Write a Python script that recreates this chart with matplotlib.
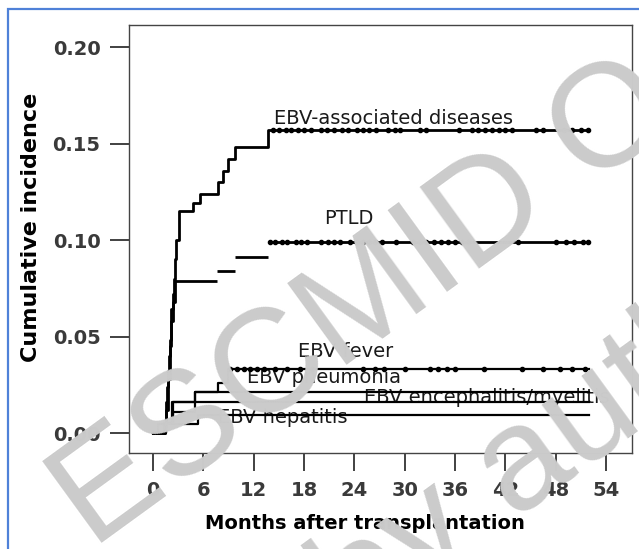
# %% import modules
import numpy as np
import matplotlib.pyplot as plt
from matplotlib.patches import Rectangle

# %% cumulative incidence curves (months after transplantation, incidence)
ebv_t = [0, 1.4, 1.5, 1.6, 1.7, 1.8, 1.9, 2.0, 2.1, 2.2, 2.35, 2.5, 2.65, 2.8,
         3.1, 4.8, 5.6, 7.7, 8.3, 9.0, 9.8, 13.7, 52]
ebv_v = [0, 0.003, 0.008, 0.016, 0.024, 0.032, 0.040, 0.048, 0.056, 0.064,
         0.072, 0.080, 0.090, 0.100, 0.115, 0.119, 0.124, 0.130, 0.136, 0.142,
         0.148, 0.157, 0.157]
ebv_cens = [14.3, 15.0, 15.8, 16.5, 17.3, 18.0, 18.8, 20.0, 20.8, 21.6, 22.5,
            23.3, 24.3, 25.0, 25.8, 26.6, 28.0, 28.8, 29.5, 31.8, 32.5, 36.5,
            38.0, 38.8, 39.6, 40.4, 41.2, 42.0, 42.8, 45.6, 46.5, 49.0, 50.0,
            51.0, 51.8]

ptld_t = [0, 1.4, 1.6, 1.8, 2.0, 2.2, 2.4, 2.6, 7.6, 9.8, 13.7, 52]
ptld_v = [0, 0.003, 0.012, 0.028, 0.045, 0.058, 0.068, 0.079, 0.084, 0.091,
          0.099, 0.099]
ptld_cens = [14.0, 14.6, 15.4, 16.0, 17.0, 17.6, 18.3, 20.0, 20.9, 21.6, 22.3,
             23.5, 24.3, 25.0, 25.8, 26.5, 27.3, 29.0, 31.0, 31.8, 32.6, 33.5,
             34.3, 35.2, 36.0, 36.8, 37.6, 43.5, 48.0, 49.2, 50.2, 51.2, 51.9]

fever_t = [0, 1.6, 2.4, 5.0, 7.7, 8.9, 52]
fever_v = [0, 0.005, 0.016, 0.021, 0.026, 0.033, 0.033]
fever_cens = [9.2, 10.0, 10.8, 11.6, 12.4, 13.2, 14.5, 16.0, 17.5, 19.0, 25.0,
              26.5, 27.5, 30.0, 33.0, 34.0, 35.0, 36.0, 39.5, 44.0, 46.5,
              48.5, 50.0, 51.5]

pneu_t = [0, 1.5, 2.4, 5.0, 52]
pneu_v = [0, 0.005, 0.011, 0.021, 0.021]

enceph_t = [0, 1.3, 2.3, 52]
enceph_v = [0, 0.005, 0.016, 0.016]

hep_t = [0, 0.6, 5.4, 52]
hep_v = [0, 0.0047, 0.0093, 0.0093]

xticks = np.arange(0, 55, 6)
yticks = [0.00, 0.05, 0.10, 0.15, 0.20]


def step_value(t, v, tc):
    # value of the step curve at the censoring times
    idx = np.searchsorted(t, tc, side="right") - 1
    return np.asarray(v)[idx]


# %% initialize graph
fig = plt.figure(figsize=(6.39, 5.49), dpi=100)
ax = fig.add_axes([129 / 639, 1 - 453 / 549, 503 / 639, 428 / 549])

# curves
curve_kw = dict(color="black", drawstyle="steps-post", zorder=4)
ax.plot(ebv_t, ebv_v, lw=2.0, **curve_kw)
# PTLD plateaus drawn as separate horizontal pieces
ax.plot(ptld_t[:8], ptld_v[:8], lw=2.0, **curve_kw)
ax.hlines(ptld_v[7:-1], ptld_t[7:-1], ptld_t[8:], colors="black", lw=2.0,
          zorder=4)
ax.plot(fever_t, fever_v, lw=1.6, **curve_kw)
ax.plot(pneu_t, pneu_v, lw=1.6, **curve_kw)
ax.plot(enceph_t, enceph_v, lw=1.6, **curve_kw)
ax.plot(hep_t, hep_v, lw=1.6, **curve_kw)

# censoring marks
mark_kw = dict(ls="none", marker="o", ms=3.0, color="black", zorder=5)
ax.plot(ebv_cens, step_value(ebv_t, ebv_v, ebv_cens), **mark_kw)
ax.plot(ptld_cens, step_value(ptld_t, ptld_v, ptld_cens), **mark_kw)
ax.plot(fever_cens, step_value(fever_t, fever_v, fever_cens), **mark_kw)

# curve labels
lab_kw = dict(fontsize=14, family="DejaVu Sans", color="#1a1a1a",
              va="center", ha="left", zorder=3)
ax.text(14.4, 0.1627, "EBV-associated diseases", **lab_kw)
ax.text(20.4, 0.1110, "PTLD", **lab_kw)
ax.text(17.3, 0.0420, "EBV fever", **lab_kw)
ax.text(11.2, 0.0290, "EBV pneumonia", **lab_kw)
ax.text(25.2, 0.0185, "EBV encephalitis/myelitis", **lab_kw)
ax.text(7.7, 0.0078, "EBV hepatitis", **lab_kw)

# axes and ticks
ax.set_xlim(-2.86, 57.1)
ax.set_ylim(-0.01036, 0.2114)
ax.set_xticks(xticks)
ax.set_yticks(yticks)
ax.set_yticklabels([f"{y:.2f}" for y in yticks])
for lab in ax.get_xticklabels() + ax.get_yticklabels():
    lab.set_fontfamily("DejaVu Sans")
    lab.set_fontweight("bold")
    lab.set_fontsize(14)
    lab.set_color("#3a3a3a")
ax.tick_params(axis="y", direction="out", length=13.5, width=1.3,
               color="#333333", pad=7)
ax.tick_params(axis="x", direction="out", length=13, width=1.3,
               color="#333333", pad=7)
for sp in ax.spines.values():
    sp.set_color("#444444")
    sp.set_linewidth(1.0)

ax.set_xlabel("Months after transplantation", fontsize=14,
              fontweight="bold", family="DejaVu Sans")
ax.set_ylabel("Cumulative incidence", fontsize=16, fontweight="bold",
              family="DejaVu Sans")
ax.xaxis.set_label_coords(0.469, -0.1425)
ax.yaxis.set_label_coords(-0.175, 0.526)

# blue frame
fig.patches.append(Rectangle((8 / 639, -0.05), 1.1, 1 - 9 / 549 + 0.05,
                             transform=fig.transFigure, fill=False,
                             edgecolor="#4f81d8", lw=1.6))

# watermark
wm_kw = dict(rotation=36, rotation_mode="anchor", ha="left", va="baseline",
             fontsize=106, family="Liberation Sans", color="#cbcbcb",
             zorder=10)
fig.text(92 / 639, 1 - 550 / 549, "ESCMID Online Lecture Library", **wm_kw)
fig.text(355 / 639, 1 - 637 / 549, "by author", **wm_kw)

# save
fig.savefig("out.png", dpi=100)
